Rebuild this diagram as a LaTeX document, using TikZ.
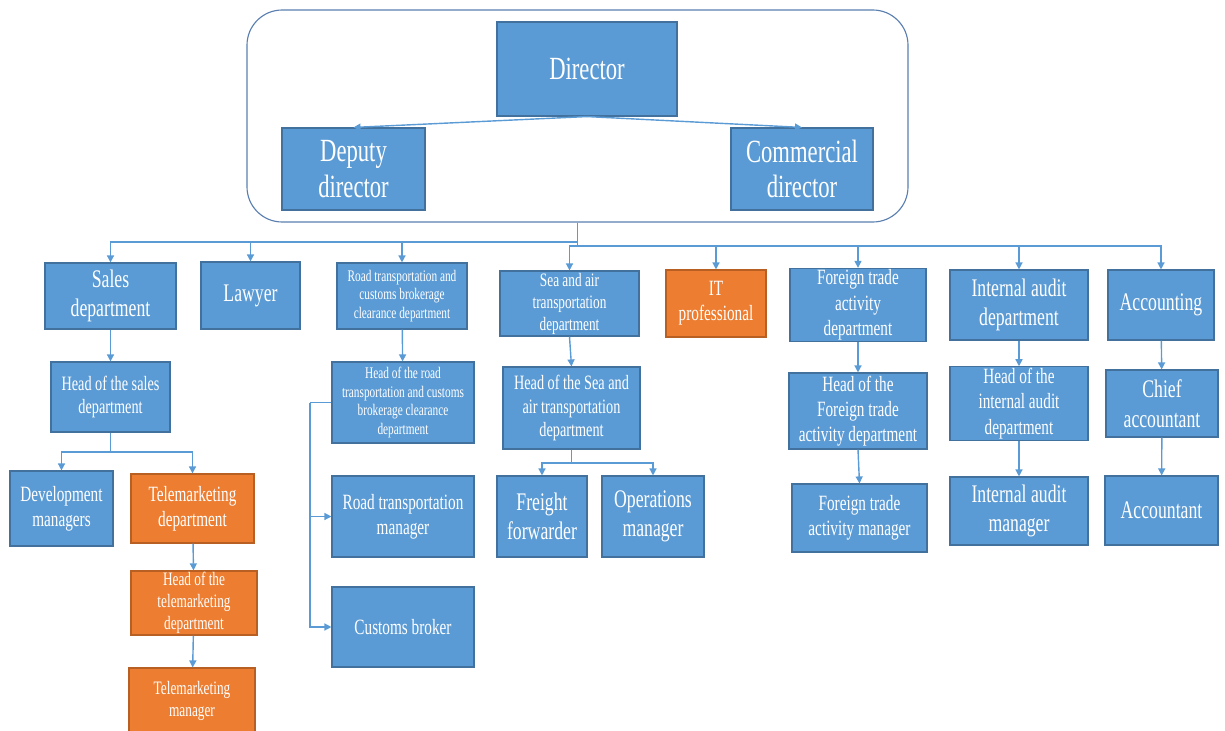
\documentclass[tikz,border=0pt]{standalone}
\usepackage{fontspec}
\setmainfont{Liberation Serif}[FakeStretch=0.7]
\usetikzlibrary{arrows.meta}
\definecolor{boxblue}{HTML}{5B9BD5}
\definecolor{edgeblue}{HTML}{41719C}
\definecolor{boxorange}{HTML}{ED7D31}
\definecolor{edgeorange}{HTML}{B85F24}
\definecolor{frameblue}{HTML}{5A7FAF}
\tikzset{
  wh/.style 2 args={minimum width=#1*0.025cm, minimum height=#2*0.025cm},
  unit/.style={rectangle, draw=edgeblue, fill=boxblue, line width=0.8pt, text=white, align=center, inner sep=1pt},
  hiunit/.style={unit, draw=edgeorange, fill=boxorange},
  txtxl/.style={font=\fontsize{23}{25}\selectfont},
  txtl/.style={font=\fontsize{18}{21}\selectfont},
  txtm/.style={font=\fontsize{15.5}{18}\selectfont},
  txtsm/.style={font=\fontsize{14.5}{17}\selectfont},
  txts/.style={font=\fontsize{13.5}{15.6}\selectfont},
  txtxs/.style={font=\fontsize{11.5}{13.4}\selectfont},
  wire/.style={draw=boxblue, line width=1pt},
  link/.style={wire, -{Triangle[length=5pt,width=5pt]}},
}
\begin{document}
\begin{tikzpicture}[x=0.025cm, y=-0.025cm]
    \useasboundingbox (0,0) rectangle (1225,731);

    % Management board
    \node (board) [draw=frameblue, line width=0.8pt, rounded corners=25pt, wh={661}{212}] at (577.5,116) {};
    \node (director) [unit, wh={180}{94}, txtxl] at (587,69) {Director};
    \node (deputy) [unit, wh={143}{82}, txtxl] at (353.5,169) {Deputy\\director};
    \node (commercial) [unit, wh={142}{82}, txtxl] at (802,169) {Commercial\\director};

    % Departments
    \node (sales) [unit, wh={131}{66}, txtl] at (110.5,296) {Sales\\department};
    \node (lawyer) [unit, wh={99}{67}, txtl] at (250.5,295.5) {Lawyer};
    \node (roaddept) [unit, wh={130}{66}, txtxs] at (402,296) {Road transportation and\\customs brokerage\\clearance department};
    \node (seadept) [unit, wh={139}{65}, txts] at (569.5,303.5) {Sea and air\\transportation\\department};
    \node (itpro) [hiunit, wh={100}{67}, txtm] at (716,303.5) {IT\\professional};
    \node (tradedept) [unit, wh={136}{70}, txtm] at (858,305) {Foreign trade\\activity\\department};
    \node (auditdept) [unit, wh={138}{70}, txtl] at (1019,305) {Internal audit\\department};
    \node (accounting) [unit, wh={106}{70}, txtl] at (1161,305) {Accounting};

    % Heads
    \node (saleshead) [unit, wh={119}{70}, txtsm] at (110.5,397) {Head of the sales\\department};
    \node (roadhead) [unit, wh={142}{81}, txtxs] at (403,402.5) {Head of the road\\transportation and customs\\brokerage clearance\\department};
    \node (seahead) [unit, wh={137}{82}, txtsm] at (571.5,408) {Head of the Sea and\\air transportation\\department};
    \node (tradehead) [unit, wh={138}{76}, txtm] at (858,411) {Head of the\\Foreign trade\\activity department};
    \node (audithead) [unit, wh={138}{67}, txtm] at (1019,403.5) {Head of the\\internal audit\\department};
    \node (chiefacc) [unit, wh={112}{67}, txtl] at (1162,403.5) {Chief\\accountant};

    % Staff
    \node (devman) [unit, wh={103}{75}, txtm] at (61.5,508.5) {Development\\managers};
    \node (teledept) [hiunit, wh={123}{69}, txtm] at (192.5,508.5) {Telemarketing\\department};
    \node (roadman) [unit, wh={142}{81}, txtm] at (403,516.5) {Road transportation\\manager};
    \node (freight) [unit, wh={90}{81}, txtl] at (542,516.5) {Freight\\forwarder};
    \node (operman) [unit, wh={102}{81}, txtl] at (653,516.5) {Operations\\manager};
    \node (trademan) [unit, wh={135}{68}, txtm] at (859.5,518) {Foreign trade\\activity manager};
    \node (auditman) [unit, wh={138}{68}, txtl] at (1019,511) {Internal audit\\manager};
    \node (accountant) [unit, wh={113}{69}, txtl] at (1161.5,510.5) {Accountant};
    \node (telehead) [hiunit, wh={126}{64}, txts] at (194,603) {Head of the\\telemarketing\\department};
    \node (customs) [unit, wh={142}{80}, txtm] at (403,627) {Customs broker};
    \node (teleman) [hiunit, wh={126}{66}, txts] at (192,701) {Telemarketing\\manager};

    % Fork points
    \coordinate (busC) at (577.5,246);
    \coordinate (busL) at (577.5,242);
    \coordinate (busR) at (572,246);
    \coordinate (salesfork) at (110.5,452);
    \coordinate (roadfork) at (310,402.5);
    \coordinate (seafork) at (571.5,463);

    % Board arrows
    \draw[link] (director.south) -- (deputy.north);
    \draw[link] (director.south) -- (commercial.north);

    % Bus to the departments
    \draw[wire] (board.south) -- (busC) -- (busR);
    \foreach \d in {sales, lawyer, roaddept}
        \draw[link] (busL) -| (\d.north);
    \foreach \d in {seadept, itpro, tradedept, auditdept, accounting}
        \draw[link] (busR) -| (\d.north);

    % Department chains
    \draw[link] (sales) -- (saleshead);
    \draw[link] (saleshead.south) -- (salesfork) -| (devman.north);
    \draw[link] (salesfork) -| (teledept.north);
    \draw[link] (teledept) -- (telehead);
    \draw[link] (telehead) -- (teleman);

    \draw[link] (roaddept) -- (roadhead);
    \draw[wire] (roadhead.west) -- (roadfork);
    \draw[link] (roadfork) |- (roadman.west);
    \draw[link] (roadfork) |- (customs.west);

    \draw[link] (seadept.south) -- (seahead.north);
    \draw[link] (seahead.south) -- (seafork) -| (freight.north);
    \draw[link] (seafork) -| (operman.north);

    \draw[link] (tradedept) -- (tradehead);
    \draw[link] (tradehead.south) -- (trademan.north);
    \draw[link] (auditdept) -- (audithead);
    \draw[link] (audithead) -- (auditman);
    \draw[link] (accounting) -- (chiefacc);
    \draw[link] (chiefacc) -- (accountant);
\end{tikzpicture}
\end{document}
